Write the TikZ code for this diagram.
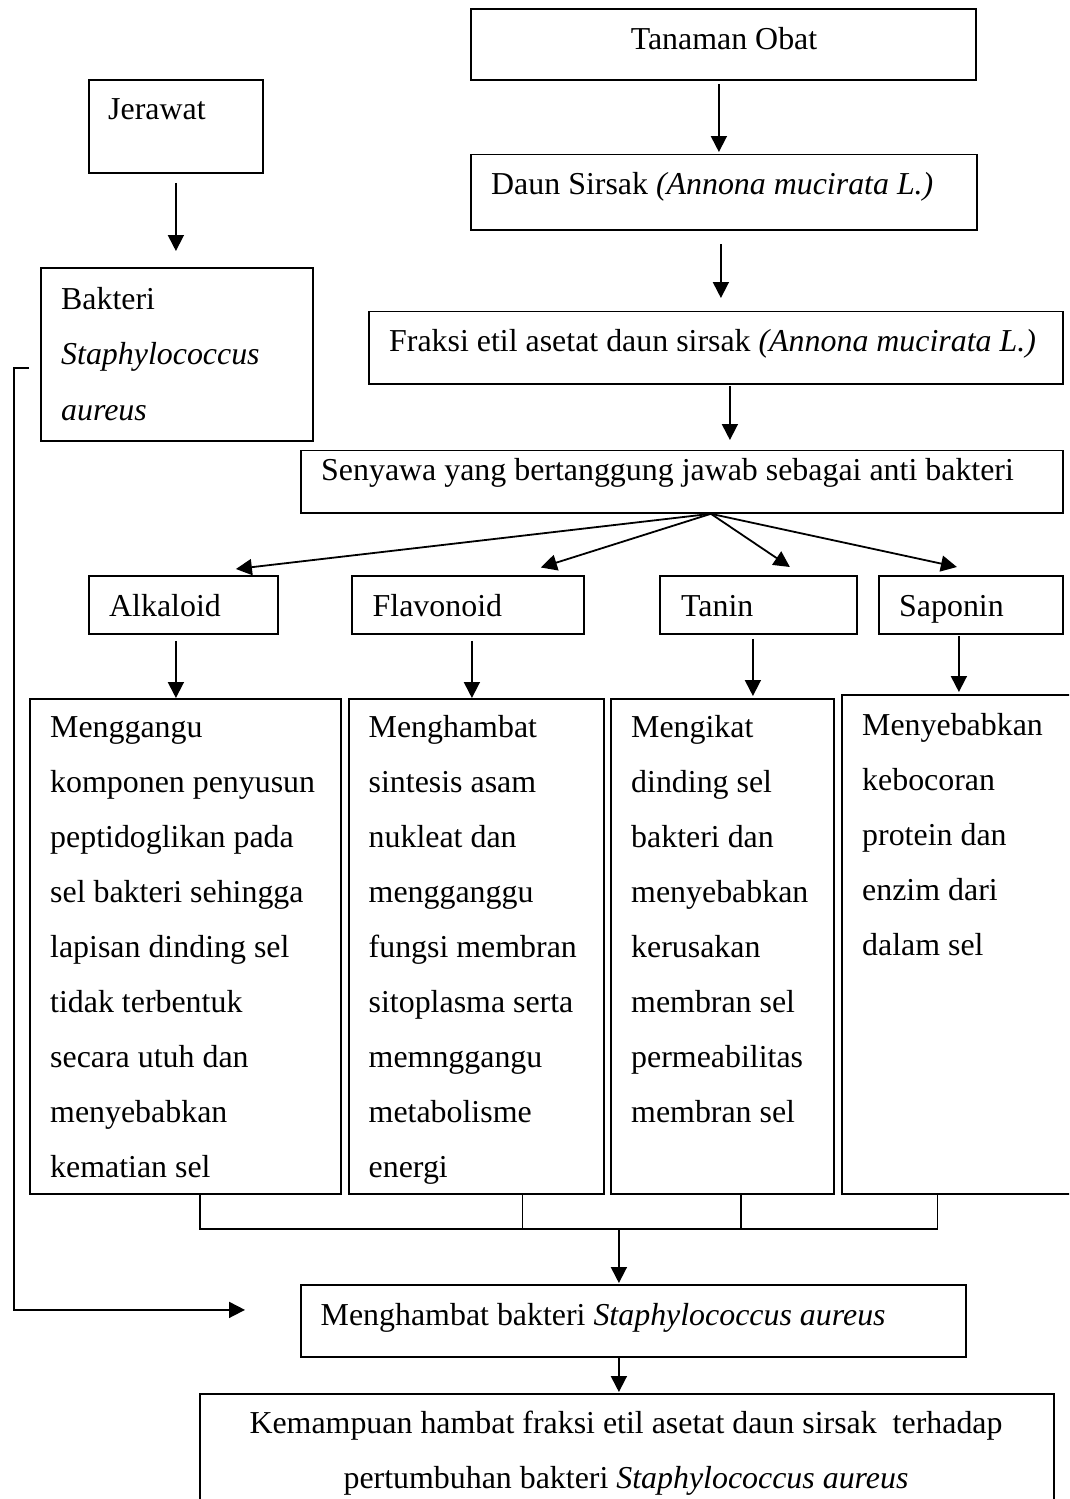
\documentclass[tikz,border=0pt]{standalone}
\usepackage{fontspec}
\setmainfont{Liberation Serif}
\usetikzlibrary{arrows.meta,calc}
\newcommand{\fstrut}{\rule{0pt}{24pt}}
\begin{document}
\begin{tikzpicture}[x=1pt,y=-1pt,
  box/.style={draw, line width=1.8pt, rectangle, inner sep=0pt, anchor=north west},
  txt/.style={inner sep=0pt, anchor=base west, font=\fontsize{31.9}{55}\selectfont},
  mtxt/.style={inner sep=0pt, anchor=north west, align=left, font=\fontsize{31.9}{55}\selectfont},
  arr/.style={line width=1.8pt, -{Triangle[length=16pt,width=16pt]}},
  conn/.style={line width=1.8pt}]
\useasboundingbox (0,0) rectangle (1069,1499);
\clip (0,0) rectangle (1069,1499);
\fill[white] (0,0) rectangle (1069,1499);

% top chain
\node[box, minimum width=505pt, minimum height=71pt] (tan) at (470,8) {};
\node[txt, anchor=base] (tantxt) at (724,49) {Tanaman Obat};

\node[box, minimum width=506pt, minimum height=75.5pt] (daun) at (470,153.5) {};
\node[txt] (dauntxt) at (491,194.5) {Daun Sirsak \textit{(Annona mucirata L.)}};

\node[box, minimum width=694pt, minimum height=72.5pt] (fraksi) at (368,310.5) {};
\node[txt] (fraksitxt) at (389,351) {Fraksi etil asetat daun sirsak \textit{(Annona mucirata L.)}};

\node[box, minimum width=762pt, minimum height=62.5pt] (seny) at (300,449.5) {};
\node[txt] (senytxt) at (321,480) {Senyawa yang bertanggung jawab sebagai anti bakteri};

% left chain
\node[box, minimum width=174pt, minimum height=93pt] (jer) at (88,79) {};
\node[txt] (jertxt) at (108,119) {Jerawat};

\node[box, minimum width=272pt, minimum height=173pt] (bak) at (40,267) {};
\node[mtxt, font=\fontsize{31.9}{55.5}\selectfont] (baktxt) at (61,285) {\fstrut Bakteri\\ \textit{Staphylococcus}\\ \textit{aureus}};

% compound boxes
\node[box, minimum width=189pt, minimum height=58pt] (alk) at (88,575) {};
\node[txt] (alktxt) at (109,616.5) {Alkaloid};
\node[box, minimum width=232pt, minimum height=58pt] (fla) at (351,575) {};
\node[txt] (flatxt) at (372.5,616.5) {Flavonoid};
\node[box, minimum width=197pt, minimum height=58pt] (tni) at (659,575) {};
\node[txt] (tnitxt) at (681,616.5) {Tanin};
\node[box, minimum width=184pt, minimum height=58pt] (sap) at (878,575) {};
\node[txt] (saptxt) at (899,616.5) {Saponin};

% mechanism boxes
\node[box, minimum width=311pt, minimum height=495pt] (b1) at (29,698) {};
\node[mtxt] (b1txt) at (50,713) {\fstrut Menggangu\\ komponen penyusun\\ peptidoglikan pada\\ sel bakteri sehingga\\ lapisan dinding sel\\ tidak terbentuk\\ secara utuh dan\\ menyebabkan\\ kematian sel};
\node[box, minimum width=255pt, minimum height=495pt] (b2) at (348,698) {};
\node[mtxt] (b2txt) at (368.5,713) {\fstrut Menghambat\\ sintesis asam\\ nukleat dan\\ mengganggu\\ fungsi membran\\ sitoplasma serta\\ memnggangu\\ metabolisme\\ energi};
\node[box, minimum width=223pt, minimum height=495pt] (b3) at (610,698) {};
\node[mtxt] (b3txt) at (631,713) {\fstrut Mengikat\\ dinding sel\\ bakteri dan\\ menyebabkan\\ kerusakan\\ membran sel\\ permeabilitas\\ membran sel};
\node[box, minimum width=240pt, minimum height=499pt] (b4) at (841,694) {};
\node[mtxt] (b4txt) at (862,711) {\fstrut Menyebabkan\\ kebocoran\\ protein dan\\ enzim dari\\ dalam sel};

% result boxes
\node[box, minimum width=665pt, minimum height=72pt] (ham) at (300,1284) {};
\node[txt] (hamtxt) at (320.5,1325) {Menghambat bakteri \textit{Staphylococcus aureus}};
\node[box, minimum width=854pt, minimum height=140pt] (kem) at (199,1393) {};
\node[mtxt, anchor=north, align=center] (kemtxt) at (626,1409) {\fstrut Kemampuan hambat fraksi etil asetat daun sirsak\ \ terhadap\\ pertumbuhan bakteri \textit{Staphylococcus aureus}};

% vertical arrows top chain
\draw[arr, shorten <=3pt, shorten >=1.5pt] ([xshift=-4.5pt]tan.south) -- ([xshift=-4.5pt]tan.south |- daun.north);
\draw[arr, shorten <=13.5pt, shorten >=12.5pt] ([xshift=5pt]daun.south -| fraksi.north) -- ([xshift=5pt]fraksi.north);
\draw[arr, shorten <=1pt, shorten >=9.5pt] ([xshift=14pt]fraksi.south) -- ([xshift=14pt]fraksi.south |- seny.north);
\draw[arr, shorten <=9pt, shorten >=16pt] (jer.south) -- (jer.south |- bak.north);

% fan
\coordinate (fan) at ([xshift=29pt]seny.south);
\draw[arr] (fan) -- ([xshift=52.5pt,yshift=6pt]alk.north);
\draw[arr] (fan) -- ([xshift=73pt,yshift=7.5pt]fla.north);
\draw[arr] (fan) -- ([xshift=31.5pt,yshift=8pt]tni.north);
\draw[arr] (fan) -- ([xshift=-14pt,yshift=8pt]sap.north);

% compound to mechanism
\draw[arr, shorten <=6pt, shorten >=0pt] ([xshift=-7.5pt]alk.south) -- ([xshift=-7.5pt]alk.south |- b1.north);
\draw[arr, shorten <=6pt, shorten >=0pt] ([xshift=4pt]fla.south) -- ([xshift=4pt]fla.south |- b2.north);
\draw[arr, shorten <=4pt, shorten >=2pt] ([xshift=-5.5pt]tni.south) -- ([xshift=-5.5pt]tni.south |- b3.north);
\draw[arr, shorten <=1pt, shorten >=2pt] ([xshift=-12pt]sap.south) -- ([xshift=-12pt]sap.south |- b4.north);

% merge
\coordinate (m1) at ([xshift=14.5pt,yshift=-34pt]b1.south);
\coordinate (m2) at ([xshift=46pt,yshift=-34pt]b2.south);
\coordinate (m3) at ([xshift=18.5pt,yshift=-34pt]b3.south);
\coordinate (m4) at ([xshift=-24.5pt,yshift=-34pt]b4.south);
\draw[conn] ([xshift=14.5pt]b1.south) -- (m1) -- (m4) -- ([xshift=-24.5pt]b4.south);
\draw[conn] ([xshift=46pt]b2.south) -- (m2);
\draw[conn] ([xshift=18.5pt]b3.south) -- (m3);
\draw[arr, shorten >=1pt] ([xshift=-14.5pt]ham.north |- m1) -- ([xshift=-14.5pt]ham.north);

\draw[arr, shorten <=0pt, shorten >=1pt] ([xshift=-14.5pt]ham.south) -- ([xshift=-14.5pt]ham.south |- kem.north);

% feedback
\coordinate (fbA) at ([xshift=-11pt,yshift=-13.5pt]bak.west);
\coordinate (fbB) at ([xshift=-55pt,yshift=11pt]ham.west);
\draw[arr] (fbA) -- ++(-15,0) |- (fbB);
\end{tikzpicture}
\end{document}
